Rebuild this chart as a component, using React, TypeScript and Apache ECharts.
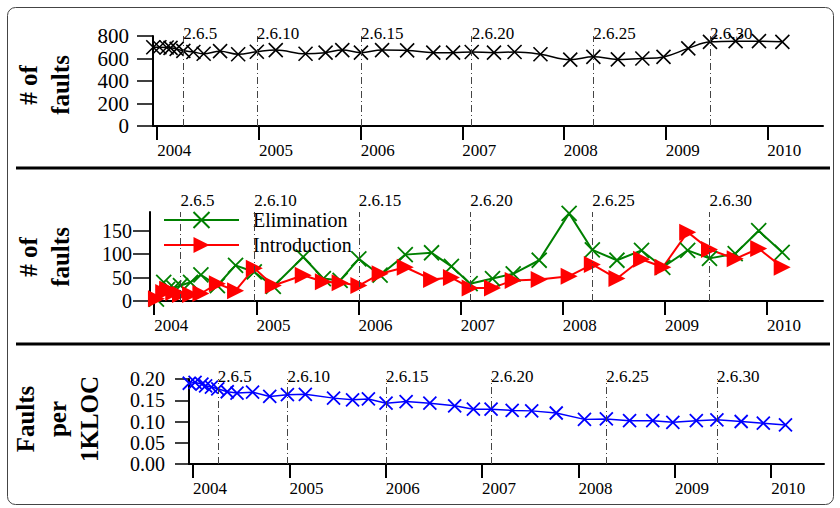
import React, { useEffect, useRef } from 'react';
import * as echarts from 'echarts';

// Linux 2.6.x release names and dates
const releaseNames = [
  '2.6.0', '2.6.1', '2.6.2', '2.6.3', '2.6.4', '2.6.5', '2.6.6', '2.6.7', '2.6.8', '2.6.9',
  '2.6.10', '2.6.11', '2.6.12', '2.6.13', '2.6.14', '2.6.15', '2.6.16', '2.6.17', '2.6.18', '2.6.19',
  '2.6.20', '2.6.21', '2.6.22', '2.6.23', '2.6.24', '2.6.25', '2.6.26', '2.6.27', '2.6.28', '2.6.29',
  '2.6.30', '2.6.31', '2.6.32', '2.6.33',
];
const releaseDates = [
  '2003-12-18', '2004-01-09', '2004-02-04', '2004-02-18', '2004-03-11', '2004-04-04', '2004-05-10', '2004-06-16', '2004-08-14', '2004-10-18',
  '2004-12-24', '2005-03-02', '2005-06-17', '2005-08-28', '2005-10-27', '2006-01-02', '2006-03-19', '2006-06-17', '2006-09-19', '2006-11-29',
  '2007-02-04', '2007-04-25', '2007-07-08', '2007-10-09', '2008-01-24', '2008-04-16', '2008-07-13', '2008-10-09', '2008-12-24', '2009-03-23',
  '2009-06-09', '2009-09-09', '2009-12-02', '2010-02-24',
];

// Panel 1: number of faults per release (2.6.0 .. 2.6.33)
const faultCounts = [
  700, 700, 698, 695, 685, 668, 658, 642, 665, 638,
  660, 675, 642, 652, 675, 652, 675, 672, 652, 652,
  658, 652, 658, 638, 590, 615, 592, 600, 614, 690,
  748, 754, 754, 748,
];

// Panel 2: faults eliminated / introduced per release (2.6.1 .. 2.6.33)
const eliminationCounts = [
  4, 40, 25, 28, 33, 40, 56, 33, 76, 62,
  31, 94, 48, 44, 90, 55, 99, 103, 74, 37,
  48, 58, 87, 187, 109, 87, 108, 72, 108, 91,
  101, 150, 104,
];
const introductionCounts = [
  5, 18, 25, 18, 14, 14, 16, 37, 22, 70,
  33, 55, 41, 39, 33, 58, 72, 46, 50, 28,
  28, 44, 46, 53, 78, 48, 89, 72, 147, 110,
  90, 112, 72,
];

// Panel 3: faults per 1KLOC (2.6.0 .. 2.6.33)
const faultsPerKloc = [
  0.190, 0.192, 0.188, 0.184, 0.181, 0.177, 0.170, 0.167, 0.169, 0.159,
  0.163, 0.164, 0.155, 0.151, 0.153, 0.143, 0.147, 0.143, 0.137, 0.129,
  0.129, 0.126, 0.125, 0.120, 0.105, 0.106, 0.102, 0.102, 0.098, 0.102,
  0.104, 0.100, 0.096, 0.092,
];

const versionMarks = ['2.6.5', '2.6.10', '2.6.15', '2.6.20', '2.6.25', '2.6.30'];
const yearTicks = [2004, 2005, 2006, 2007, 2008, 2009, 2010];
const faultTicks = [0, 200, 400, 600, 800];
const changeTicks = [0, 50, 100, 150];
const densityTicks = [0, 0.05, 0.1, 0.15, 0.2];
const axisStart = '2003-12-17';
const axisEnd = '2010-07-20';

const toUTC = (s: string) => {
  const [y, m, d] = s.split('-').map(Number);
  return Date.UTC(y, m - 1, d);
};

const FONT = '"Liberation Serif", "Times New Roman", serif';
const XMARK = 'path://M0,0L10,10M10,0L0,10';

export default function App() {
  const ref = useRef<HTMLDivElement>(null);

  useEffect(() => {
    if (!ref.current) return;
    const chart = echarts.init(ref.current, null, { renderer: 'svg' });

    const stamps = releaseDates.map(toUTC);
    const yearStamps = yearTicks.map((y) => Date.UTC(y, 0, 1));
    const xMin = toUTC(axisStart);
    const xMax = toUTC(axisEnd);

    const markLineFor = (distance: number) => ({
      silent: true,
      symbol: ['none', 'none'],
      animation: false,
      lineStyle: { color: '#444', width: 1, type: [7, 3, 1, 3] },
      label: {
        show: true,
        position: 'end',
        distance,
        align: 'left',
        fontFamily: FONT,
        fontSize: 17,
        lineHeight: 14,
        color: '#000',
      },
      emphasis: { disabled: true },
      data: versionMarks.map((v) => ({
        xAxis: stamps[releaseNames.indexOf(v)],
        label: { formatter: v },
      })),
    });

    const xAxisFor = (gridIndex: number) => ({
      type: 'value',
      gridIndex,
      min: xMin,
      max: xMax,
      axisLine: { show: true, onZero: false, lineStyle: { color: '#000', width: 2 } },
      axisTick: { show: true, length: 14, lineStyle: { color: '#000', width: 2 }, customValues: yearStamps },
      axisLabel: {
        customValues: yearStamps,
        formatter: (v: number) => String(new Date(v).getUTCFullYear()),
        align: 'left',
        margin: 16,
        fontFamily: FONT,
        fontSize: 17,
        color: '#000',
      },
      splitLine: { show: false },
    });

    const yAxisBase = (gridIndex: number, margin: number, tickLen: number) => ({
      type: 'value',
      gridIndex,
      axisLine: { show: true, onZero: false, lineStyle: { color: '#000', width: 2 } },
      axisTick: { show: true, length: tickLen, lineStyle: { color: '#000', width: 1.5 } },
      axisLabel: { margin, fontFamily: FONT, fontSize: 21, lineHeight: 19, color: '#000' },
      splitLine: { show: false },
    });

    const y0 = yAxisBase(0, 24, 16) as any;
    y0.min = 0; y0.max = 800; y0.interval = 200;
    y0.axisTick.customValues = faultTicks;
    y0.axisLabel.customValues = faultTicks;

    const y1 = yAxisBase(1, 18, 17) as any;
    y1.min = 0; y1.max = 190;
    y1.axisTick.customValues = changeTicks;
    y1.axisLabel.customValues = changeTicks;
    y1.axisLabel.fontSize = 20;

    const y2 = yAxisBase(2, 24, 14) as any;
    y2.min = 0; y2.max = 0.2; y2.interval = 0.05;
    y2.axisTick.customValues = densityTicks;
    y2.axisLabel.customValues = densityTicks;
    y2.axisLabel.fontSize = 20;
    y2.axisLabel.lineHeight = 18;
    y2.axisLabel.formatter = (v: number) => v.toFixed(2);

    const titleText = (text: string, x: number, y: number) => ({
      type: 'text',
      x,
      y,
      rotation: Math.PI / 2,
      silent: true,
      style: {
        text,
        fontFamily: FONT,
        fontWeight: 'bold',
        fontSize: 25,
        lineHeight: 32,
        fill: '#000',
        align: 'center',
        verticalAlign: 'middle',
        textAlign: 'center',
        textVerticalAlign: 'middle',
      },
    });

    chart.setOption({
      animation: false,
      backgroundColor: '#fff',
      textStyle: { fontFamily: FONT },
      grid: [
        { left: 153, top: 36, width: 670, height: 90 },
        { left: 150, top: 212, width: 673, height: 89 },
        { left: 189, top: 379, width: 635, height: 85 },
      ],
      xAxis: [xAxisFor(0), xAxisFor(1), xAxisFor(2)],
      yAxis: [y0, y1, y2],
      legend: {
        data: ['Elimination', 'Introduction'],
        orient: 'vertical',
        left: 163,
        top: 210,
        padding: 0,
        itemWidth: 75,
        itemHeight: 20,
        itemGap: 5,
        selectedMode: false,
        textStyle: { fontFamily: FONT, fontSize: 20, lineHeight: 18, color: '#000', padding: [0, 0, 0, 9] },
      },
      graphic: [
        {
          type: 'rect',
          silent: true,
          shape: { x: 7.5, y: 7.5, width: 826, height: 497, r: 8 },
          style: { fill: 'none', stroke: '#444', lineWidth: 1 },
        },
        { type: 'line', silent: true, shape: { x1: 16, y1: 168, x2: 830, y2: 168 }, style: { stroke: '#000', lineWidth: 3 } },
        { type: 'line', silent: true, shape: { x1: 16, y1: 344, x2: 830, y2: 344 }, style: { stroke: '#000', lineWidth: 3 } },
        titleText('# of\nfaults', 44, 85),
        titleText('# of\nfaults', 44, 257),
        titleText('Faults\nper\n1KLOC', 57, 419),
      ],
      series: [
        {
          name: 'Faults',
          type: 'line',
          xAxisIndex: 0,
          yAxisIndex: 0,
          data: stamps.map((t, i) => [t, faultCounts[i]]),
          symbol: XMARK,
          symbolSize: 14,
          showAllSymbol: true,
          smooth: 0.4,
          lineStyle: { color: '#000', width: 1.5 },
          itemStyle: { color: '#000', borderColor: '#000', borderWidth: 1.6 },
          emphasis: { disabled: true },
          markLine: markLineFor(-4),
        },
        {
          name: 'Elimination',
          type: 'line',
          xAxisIndex: 1,
          yAxisIndex: 1,
          data: stamps.slice(1).map((t, i) => [t, eliminationCounts[i]]),
          symbol: XMARK,
          symbolSize: 15,
          showAllSymbol: true,
          lineStyle: { color: '#008000', width: 2 },
          itemStyle: { color: '#008000', borderColor: '#008000', borderWidth: 1.8 },
          emphasis: { disabled: true },
          markLine: markLineFor(5),
        },
        {
          name: 'Introduction',
          type: 'line',
          xAxisIndex: 1,
          yAxisIndex: 1,
          data: stamps.slice(1).map((t, i) => [t, introductionCounts[i]]),
          symbol: 'triangle',
          symbolRotate: -90,
          symbolSize: 17,
          showAllSymbol: true,
          lineStyle: { color: '#ff0000', width: 2 },
          itemStyle: { color: '#ff0000' },
          emphasis: { disabled: true },
        },
        {
          name: 'Faults per 1KLOC',
          type: 'line',
          xAxisIndex: 2,
          yAxisIndex: 2,
          data: stamps.map((t, i) => [t, faultsPerKloc[i]]),
          symbol: XMARK,
          symbolSize: 13,
          showAllSymbol: true,
          lineStyle: { color: '#0000ff', width: 1.5 },
          itemStyle: { color: '#0000ff', borderColor: '#0000ff', borderWidth: 1.8 },
          emphasis: { disabled: true },
          markLine: markLineFor(-4),
        },
      ],
    });

    return () => chart.dispose();
  }, []);

  return <div ref={ref} style={{ width: 840, height: 508, position: 'absolute', left: 0, top: 0 }} />;
}
